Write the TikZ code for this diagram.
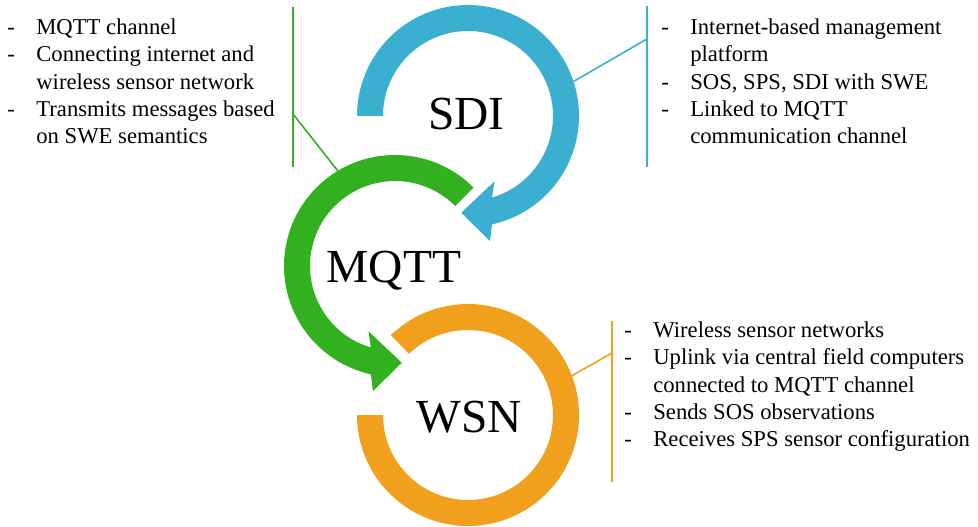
\documentclass[tikz,border=0pt]{standalone}
\usepackage{fontspec}
\setmainfont{Liberation Serif}

\definecolor{sdiblue}{RGB}{58,175,208}
\definecolor{mqttgreen}{RGB}{50,176,32}
\definecolor{wsnorange}{RGB}{241,160,30}

\newcommand{\dashline}{\makebox[0.58cm][l]{-}}
\newcommand{\noline}{\hspace*{0.58cm}}

\begin{document}
\begin{tikzpicture}[x=0.02cm, y=0.02cm,
    bigname/.style={font=\fontsize{27}{30}\selectfont, inner sep=0pt, anchor=base},
    notes/.style={font=\fontsize{12.9}{15.5}\selectfont, align=left, inner sep=0pt, anchor=north west},
    bar/.style={line width=0.9pt}]
    \useasboundingbox (0,0) rectangle (978,-527);

    \coordinate (sdiC) at (468,-116);
    \coordinate (mqttC) at (395,-266);
    \coordinate (wsnC) at (468,-415);

    \fill[sdiblue] ([shift={(180:111)}]sdiC) arc[start angle=180, end angle=-77.5, radius=111]
        -- ([shift={(-80:127)}]sdiC) -- ([shift={(-94:97)}]sdiC) -- ([shift={(-68:70.5)}]sdiC)
        -- ([shift={(-73.5:85)}]sdiC) arc[start angle=-73.5, end angle=180, radius=85] -- cycle;

    \fill[mqttgreen] ([shift={(45:111)}]mqttC) arc[start angle=45, end angle=257.5, radius=111]
        -- ([shift={(260:127)}]mqttC) -- ([shift={(274:97)}]mqttC) -- ([shift={(248:70.5)}]mqttC)
        -- ([shift={(253.5:85)}]mqttC) arc[start angle=253.5, end angle=45, radius=85] -- cycle;

    \fill[wsnorange] ([shift={(134:111)}]wsnC) arc[start angle=134, end angle=-180, radius=111]
        -- ([shift={(180:85)}]wsnC) arc[start angle=-180, end angle=134, radius=85] -- cycle;

    \node[bigname] (sdi) at (466.5,-130) {SDI};
    \node[bigname] (mqtt) at (394,-282) {MQTT};
    \node[bigname] (wsn) at (469,-432) {WSN};

    \node[notes] (mqttnote) at (7,-18.5) {\dashline MQTT channel\\
        \dashline Connecting internet and\\
        \noline wireless sensor network\\
        \dashline Transmits messages based\\
        \noline on SWE semantics};
    \node[notes] (sdinote) at (661,-18.5) {\dashline Internet-based management\\
        \noline platform\\
        \dashline SOS, SPS, SDI with SWE\\
        \dashline Linked to MQTT\\
        \noline communication channel};
    \node[notes] (wsnnote) at (624,-321.5) {\dashline Wireless sensor networks\\
        \dashline Uplink via central field computers\\
        \noline connected to MQTT channel\\
        \dashline Sends SOS observations\\
        \dashline Receives SPS sensor configuration};

    \coordinate (mqtttop) at (293,-7);
    \coordinate (mqttbot) at (293,-167);
    \coordinate (mqttjoin) at (293,-114);
    \draw[bar, mqttgreen] (mqtttop) -- (mqttbot);
    \draw[bar, mqttgreen] (mqttjoin) -- ([shift={(121:111)}]mqttC);

    \coordinate (sditop) at (647,-6);
    \coordinate (sdibot) at (647,-167);
    \coordinate (sdijoin) at (647,-39);
    \draw[bar, sdiblue] (sditop) -- (sdibot);
    \draw[bar, sdiblue] (sdijoin) -- ([shift={(18:110)}]sdiC);

    \coordinate (wsntop) at (612,-321);
    \coordinate (wsnbot) at (612,-482);
    \coordinate (wsnjoin) at (612,-353);
    \draw[bar, wsnorange] (wsntop) -- (wsnbot);
    \draw[bar, wsnorange] (wsnjoin) -- ([shift={(20.7:111)}]wsnC);
\end{tikzpicture}
\end{document}
